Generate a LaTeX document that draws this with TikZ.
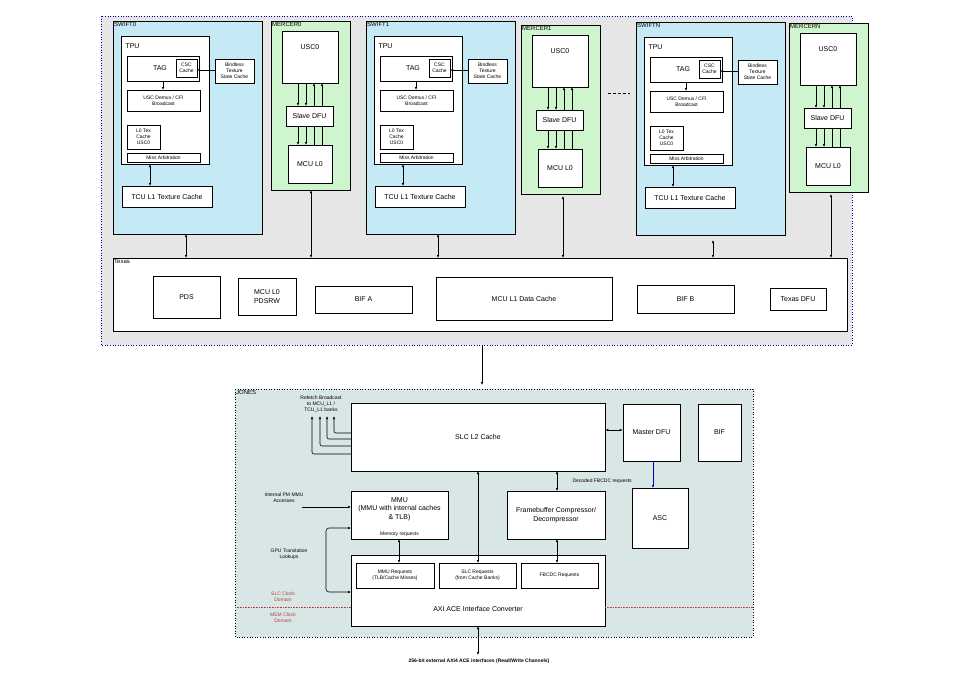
\documentclass[tikz,border=0pt]{standalone}
\usepackage{fontspec}
\setmainfont{Liberation Sans}
\usetikzlibrary{arrows.meta}
\definecolor{swift}{HTML}{C5EAF6}
\definecolor{merc}{HTML}{CFF5CF}
\definecolor{outerg}{HTML}{E6E6E6}
\definecolor{jon}{HTML}{D9E6E6}
\definecolor{dred}{HTML}{B84040}
\begin{document}
\begin{tikzpicture}[x=1pt,y=-1pt,
 bx/.style={draw=black,fill=white,line width=0.6pt},
 t/.style={font=\fontsize{7}{8.5}\selectfont,align=center},
 ts/.style={font=\fontsize{5}{6}\selectfont,align=center},
 tl/.style={font=\fontsize{6}{7}\selectfont,anchor=north west,inner sep=1pt},
 ar/.style={-{Latex[length=3pt,width=2.5pt]},line width=0.6pt},
 dar/.style={{Latex[length=3pt,width=2.5pt]}-{Latex[length=3pt,width=2.5pt]},line width=0.6pt}]
\useasboundingbox (0,0) rectangle (955,680);
% outer
\draw[blue!70!black,dotted,fill=outerg,line width=0.6pt] (101,16) rectangle (852,345);
\newcommand{\swift}[4]{% xoff, yoff, name, id
 \begin{scope}[shift={(#1,#2)}]
 \draw[fill=swift,line width=0.6pt] (113,21) rectangle (262,234);
 \node[tl] at (113,21) {#3};
 \draw[bx] (121,36) rectangle (209,164);
 \node[t,anchor=north west] at (122,40) {TPU};
 \draw[bx] (127,56) rectangle (199,81);
 \node[t] at (160,68) {TAG};
 \draw[bx] (176,59) node[coordinate](#4csc){} rectangle (197,77);
 \node[ts] (#4cscl) at (186.5,68) {CSC\\Cache};
 \draw[bx] (215,59) rectangle (254,83);
 \node[ts] (#4bind) at (234.5,71) {Bindless\\Texture\\State Cache};
 \draw[ar] (215,70) -- (197,70);
 \draw[bx] (127,90) rectangle (200,111);
 \node[ts] at (163.5,100.5) {USC Demux / CFI\\Broadcast};
 \draw[ar] (163,81) -- (163,90);
 \draw[bx] (127,125) rectangle (160,149);
 \node[ts] at (143.5,137) {L0 Tex\\Cache\\USC0};
 \draw[bx] (127,153) rectangle (200,162);
 \node[ts] at (163.5,157.5) {Miss Arbitration};
 \draw[bx] (122,186) rectangle (212,207);
 \node[t] at (167,196.5) {TCU L1 Texture Cache};
 \draw[dar] (150,164) -- (150,186);
 \end{scope}}
\newcommand{\mercer}[3]{%
 \begin{scope}[shift={(#1,#2)}]
 \draw[fill=merc,line width=0.6pt] (271,21) rectangle (350,190);
 \node[tl] at (271,21) {#3};
 \draw[bx] (282,31) rectangle (338,83);
 \node[t] at (310,47) {USC0};
 \draw[bx] (286,106) rectangle (333,126);
 \node[t] at (309.5,116) {Slave DFU};
 \draw[bx] (288,145) rectangle (332,183);
 \node[t] at (310,164) {MCU L0};
 \draw[ar] (298,83) -- (298,106); \draw[ar] (306,83) -- (306,106);
 \draw[ar] (314,106) -- (314,83); \draw[ar] (322,106) -- (322,83);
 \draw[ar] (298,126) -- (298,145); \draw[ar] (306,126) -- (306,145);
 \draw[line width=0.6pt] (314,126) -- (314,145); \draw[line width=0.6pt] (322,126) -- (322,145);
 \end{scope}}
\swift{0}{0}{SWIFT0}{a}
\mercer{0}{0}{MERCER0}
\swift{253}{0}{SWIFT1}{b}
\mercer{250}{4}{MERCER1}
\swift{523}{1}{SWIFTN}{c}
\mercer{518}{2}{MERCERN}
\draw[dashed,line width=0.6pt,dash pattern=on 3pt off 2pt] (608,93) -- (630,93);
% Texas
\draw[bx] (113,258) rectangle (847,331) node[coordinate](texse){};
\node[tl] at (113,258) {Texas};
\node[bx,minimum width=67,minimum height=42,t] (pds) at (186.5,297) {PDS};
\node[bx,minimum width=58,minimum height=37,t] (pdsrw) at (267,296.5) {MCU L0\\PDSRW};
\node[bx,minimum width=97,minimum height=27,t] (bifa) at (363.5,299.5) {BIF A};
\node[bx,minimum width=176,minimum height=43,t] (l1d) at (524,298.5) {MCU L1 Data Cache};
\node[bx,minimum width=97,minimum height=28,t] (bifb) at (685.5,299) {BIF B};
\node[bx,minimum width=56,minimum height=22,t] (tdfu) at (798,299) {Texas DFU};
\foreach \x/\y in {186/234,311/190,438/234,563/196,713/240,831/194}
 \draw[dar] (\x,\y) -- (\x,258);
\draw[ar] (482,345) -- (482,385);
% JONES
\draw[dotted,fill=jon,line width=0.6pt] (235,389) rectangle (753,637);
\node[tl] at (235,389) {JONES};
\node[bx,minimum width=254,minimum height=68,t] (slc) at (478,437) {SLC L2 Cache};
\node[bx,minimum width=57,minimum height=57,t] (mdfu) at (651.5,432.5) {Master DFU};
\node[bx,minimum width=43,minimum height=57,t] (bif) at (719.5,432.5) {BIF};
\node[bx,minimum width=56,minimum height=60,t] (asc) at (660,518) {ASC};
\node[bx,minimum width=97,minimum height=48,t,inner sep=0pt] (mmu) at (399.5,515) {};
\node[t] at (399.5,509) {MMU\\(MMU with internal caches\\\& TLB)};
\node[ts] at (399.5,534) {Memory requests};
\node[bx,minimum width=98,minimum height=48,t] (fb) at (556,515) {Framebuffer Compressor/\\Decompressor};
\node[bx,minimum width=254,minimum height=71] (axi) at (478,590.5) {};
\draw[dred,densely dotted,line width=0.6pt] (235,607) -- (351,607) (605,607) -- (753,607);
\node[t] at (478,609) {AXI ACE Interface Converter};
\node[bx,minimum width=78,minimum height=25,ts] (mreq) at (395,575.5) {MMU Requests\\(TLB/Cache Misses)};
\node[bx,minimum width=77,minimum height=25,ts] (sreq) at (477.5,575.5) {SLC Requests\\(from Cache Banks)};
\node[bx,minimum width=77,minimum height=25,ts] (freq) at (559.5,575.5) {FBCDC Requests};
\draw[dar] (mdfu.west|-{(0,430)}) -- (slc.east|-{(0,430)});
\draw[ar,blue!70!black] (653,461) -- (653,488);
\draw[dar] (399,539) -- (399,563);
\draw[dar] (478,471) -- (478,563);
\draw[dar] (557,471) -- (557,491);
\draw[dar] (557,539) -- (557,563);
\node[ts,anchor=west] at (569,481) {Decoded FBCDC requests};
\foreach \x/\y in {334/433,327/439,320/446,312/454}
 \draw[ar,rounded corners=2pt] (351,\y) -- (\x,\y) -- (\x,416);
\node[ts] at (321,404) {Refetch Broadcast\\to MCU\_L1 /\\TCU\_L1 banks};
\node[ts] at (284,498) {Internal PM MMU\\Accesses};
\draw[ar] (302,507) -- (351,507);
\draw[dar,rounded corners=3pt] (351,528) -- (326,528) -- (326,592) -- (351,592);
\node[ts] at (289,554) {GPU Translation\\Lookups};
\node[ts,text=dred] at (283,597) {SLC Clock\\Domain};
\node[ts,text=dred] at (283,618) {MEM Clock\\Domain};
\draw[dar] (478,626) -- (478,655);
\node[ts,font=\fontsize{5}{6}\selectfont\bfseries] at (479,661) {256-bit external AXI4 ACE interfaces (Read/Write Channels)};
\end{tikzpicture}
\end{document}
